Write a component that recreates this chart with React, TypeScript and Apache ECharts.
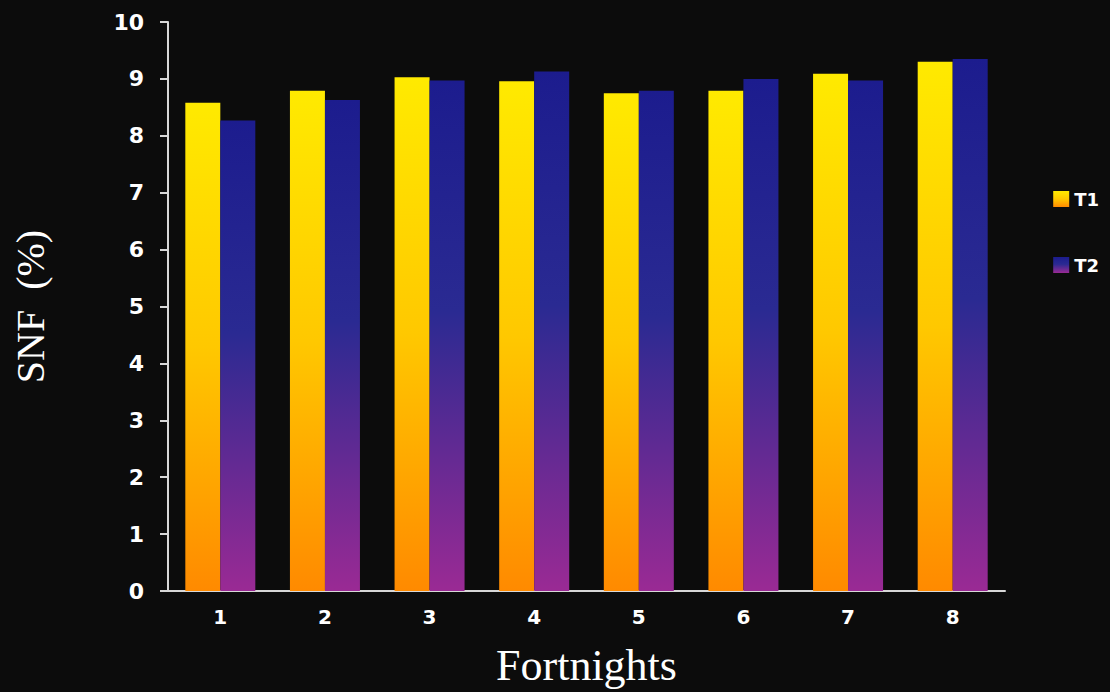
import React, { useEffect, useRef } from "react";
import * as echarts from "echarts";

const categories = ["1", "2", "3", "4", "5", "6", "7", "8"];
const t1Values = [8.58, 8.79, 9.03, 8.96, 8.75, 8.79, 9.09, 9.3];
const t2Values = [8.27, 8.63, 8.97, 9.13, 8.79, 9.0, 8.97, 9.35];
const seriesNames = ["T1", "T2"];

export default function App() {
  const ref = useRef<HTMLDivElement>(null);
  useEffect(() => {
    if (!ref.current) return;
    const chart = echarts.init(ref.current, null, { renderer: "svg" });
    const t1Color = new echarts.graphic.LinearGradient(0, 0, 0, 1, [
      { offset: 0, color: "#FFEA00" },
      { offset: 0.5, color: "#FFC800" },
      { offset: 1, color: "#FF8A00" },
    ]);
    const t2Color = new echarts.graphic.LinearGradient(0, 0, 0, 1, [
      { offset: 0, color: "#1C1C8E" },
      { offset: 0.45, color: "#2A2A92" },
      { offset: 1, color: "#9A2A94" },
    ]);
    chart.setOption({
      animation: false,
      backgroundColor: "#0c0c0c",
      grid: { left: 168, right: 105, top: 22, bottom: 82 },
      legend: {
        orient: "vertical",
        right: 6,
        top: 185,
        itemGap: 48,
        itemWidth: 16,
        itemHeight: 16,
        icon: "rect",
        textStyle: { color: "#ffffff", fontSize: 18, fontWeight: 600, fontFamily: "DejaVu Sans" },
        data: seriesNames,
      },
      xAxis: {
        type: "category",
        data: categories,
        name: "Fortnights",
        nameLocation: "middle",
        nameGap: 52,
        nameTextStyle: { color: "#ffffff", fontSize: 44, fontFamily: "Liberation Serif" },
        axisLine: { lineStyle: { color: "#d8d8d8", width: 2 } },
        axisTick: { lineStyle: { color: "#d8d8d8", width: 2 }, length: 8 },
        axisLabel: { color: "#ffffff", fontSize: 20, fontWeight: "bold", fontFamily: "DejaVu Sans", margin: 16 },
      },
      yAxis: {
        type: "value",
        min: 0,
        max: 10,
        interval: 1,
        name: "SNF  (%)",
        nameLocation: "middle",
        nameGap: 118,
        nameTextStyle: { color: "#ffffff", fontSize: 40, fontFamily: "Liberation Serif" },
        axisLine: { show: true, lineStyle: { color: "#d8d8d8", width: 2 } },
        axisTick: { show: true, lineStyle: { color: "#d8d8d8", width: 2 }, length: 8 },
        axisLabel: { color: "#ffffff", fontSize: 22, fontWeight: "bold", fontFamily: "DejaVu Sans", margin: 24 },
        splitLine: { show: false },
      },
      series: [
        {
          name: seriesNames[0],
          type: "bar",
          data: t1Values,
          barWidth: 35,
          barGap: "0%",
          itemStyle: { color: t1Color },
        },
        {
          name: seriesNames[1],
          type: "bar",
          data: t2Values,
          barWidth: 35,
          itemStyle: { color: t2Color },
        },
      ],
    });
    return () => chart.dispose();
  }, []);
  return <div ref={ref} style={{ width: 1110, height: 692, position: "fixed", left: 0, top: 0 }} />;
}
